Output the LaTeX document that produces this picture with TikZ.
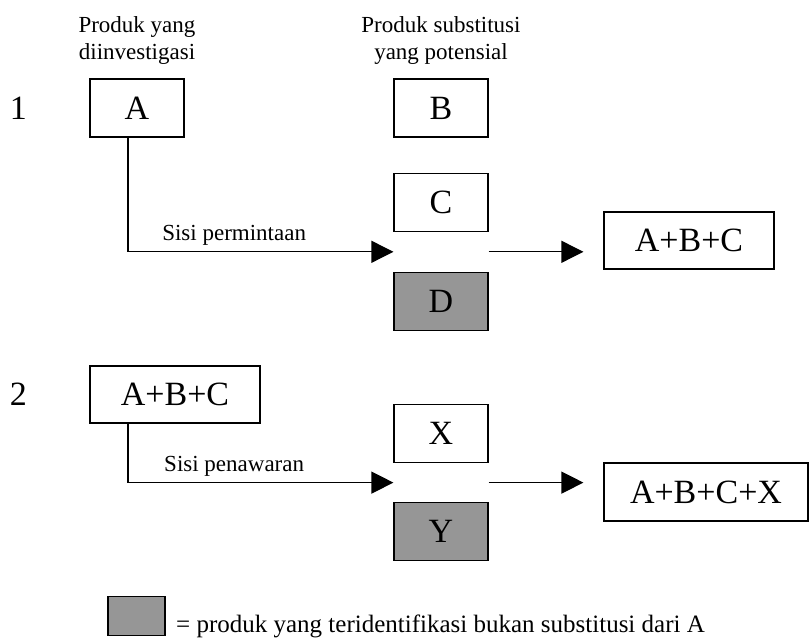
\documentclass[tikz,border=0pt]{standalone}
\usepackage{fontspec}
\setmainfont{Liberation Serif}
\usetikzlibrary{positioning, arrows.meta, calc}
\definecolor{boxgrey}{RGB}{150,150,150}

\begin{document}
\begin{tikzpicture}[
    x=1pt, y=-1pt,
    >={Triangle[length=22pt, width=22pt]},
    line width=1.2pt,
    box/.style={
        draw,
        rectangle,
        minimum width=94pt,
        minimum height=58pt,
        inner sep=0pt,
        font=\fontsize{34}{40}\selectfont
    },
    wide/.style={box, minimum width=170pt, minimum height=57pt},
    shaded/.style={fill=boxgrey},
    head/.style={align=center, inner sep=0pt, font=\fontsize{23}{27}\selectfont},
    lbl/.style={inner sep=0pt, font=\fontsize{23}{27}\selectfont},
    num/.style={inner sep=0pt, font=\fontsize{34}{40}\selectfont},
    flow/.style={->}
]
\useasboundingbox (0,0) rectangle (810,638);

% row 1
\node[box] (a) at (137,108) {A};
\node[box] (b) at (441,108) {B};
\node[box, below=35pt of b] (c) {C};
\node[box, shaded, below=40pt of c] (d) {D};
\node[wide] (abc1) at (689,240.5) {A+B+C};
\node[num, left=62pt of a] (n1) {1};

% headers
\node[head, above=13pt of a] (hdra) {Produk yang\\diinvestigasi};
\node[head, above=13pt of b] (hdrb) {Produk substitusi\\yang potensial};

% row 2
\node[wide] (abc2) at (175,394.5) {A+B+C};
\node[box] (x) at (441,433.5) {X};
\node[box, shaded, below=39pt of x] (y) {Y};
\node[box, minimum width=204pt] (abcx) at (706,492) {A+B+C+X};
\node[num, left=62pt of abc2] (n2) {2};

% gaps between the columns
\coordinate (in1) at ($(c.south west)!.5!(d.north west)$);
\coordinate (out1) at ($(c.south east)!.5!(d.north east)$);
\coordinate (in2) at ($(x.south west)!.5!(y.north west)$);
\coordinate (out2) at ($(x.south east)!.5!(y.north east)$);

% connectors
\draw[flow] ([xshift=-9pt]a.south) |- node[lbl, pos=0.7, above=6pt] {Sisi permintaan} (in1);
\draw[flow, shorten >=20pt] (out1) -- (out1 -| abc1.west);
\draw[flow] ([xshift=-47pt]abc2.south) |- node[lbl, pos=0.7, above=6pt] {Sisi penawaran} (in2);
\draw[flow, shorten >=20pt] (out2) -- (out2 -| abcx.west);

% legend
\node[draw, shaded, minimum width=57pt, minimum height=39pt, inner sep=0pt] (key) at (136.5,616) {};
\node[anchor=base west, inner sep=0pt, font=\fontsize{25}{30}\selectfont] (keytxt)
    at ([xshift=10pt, yshift=4pt]key.south east) {= produk yang teridentifikasi bukan substitusi dari A};
\end{tikzpicture}
\end{document}
